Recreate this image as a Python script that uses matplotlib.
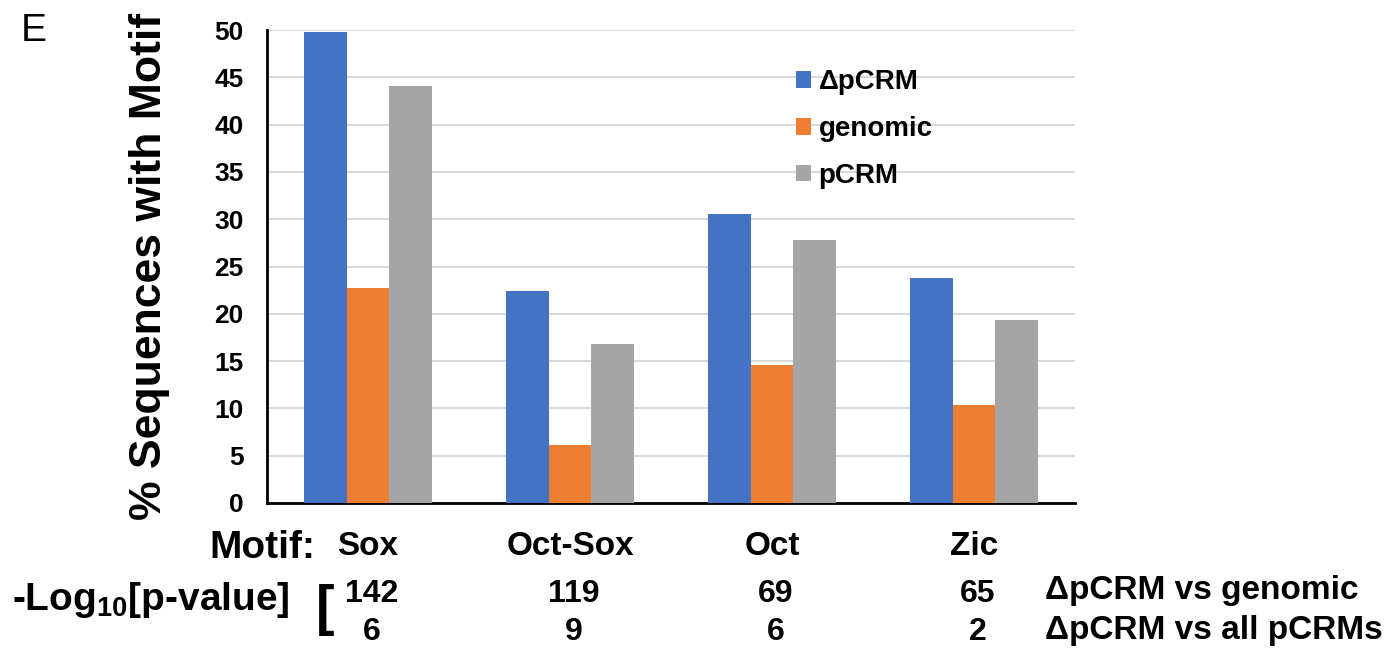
import numpy as np
import matplotlib
matplotlib.use("Agg")
import matplotlib.pyplot as plt
from matplotlib.transforms import blended_transform_factory

plt.rcParams['font.family'] = ['Liberation Sans', 'DejaVu Sans']
plt.rcParams['mathtext.fontset'] = 'custom'
plt.rcParams['mathtext.rm'] = 'Liberation Sans:bold'
plt.rcParams['mathtext.it'] = 'Liberation Sans:bold'
plt.rcParams['mathtext.bf'] = 'Liberation Sans:bold'

motifs = ["Sox", "Oct-Sox", "Oct", "Zic"]
series = ["\u0394pCRM", "genomic", "pCRM"]
delta_pcrm = [49.8, 22.4, 30.5, 23.8]
genomic = [22.7, 6.1, 14.6, 10.4]
pcrm = [44.1, 16.8, 27.8, 19.3]
pval_vs_genomic = ["142", "119", "69", "65"]
pval_vs_all = ["6", "9", "6", "2"]
colors = ["#4472C4", "#ED7D31", "#A5A5A5"]

W, H = 1394, 650
fig = plt.figure(figsize=(W / 100, H / 100), dpi=100)

def px(x, y):
    return x / W, 1 - y / H

# axes placed in pixel coords: left 267, right 1075, top 30, bottom 503
ax = fig.add_axes([267 / W, 1 - 503 / H, (1075 - 267) / W, (503 - 30) / H])

x = np.arange(len(motifs))
bw = 0.21
for i, (vals, name) in enumerate(zip([delta_pcrm, genomic, pcrm], series)):
    ax.bar(x + (i - 1) * bw, vals, bw, color=colors[i], label=name, zorder=3)

ax.set_xlim(-0.5, len(motifs) - 0.5)
ax.set_ylim(0, 50)
ax.set_yticks(range(0, 51, 5))
ax.yaxis.grid(True, color="#D9D9D9", linewidth=1.5, zorder=0)
ax.set_axisbelow(True)
for s in ["top", "right"]:
    ax.spines[s].set_visible(False)
for s in ["left", "bottom"]:
    ax.spines[s].set_linewidth(2)
    ax.spines[s].set_color("black")
ax.spines["left"].set_bounds(0, 50)
ax.tick_params(axis="both", length=0)
ax.tick_params(axis="y", pad=17)
for lab in ax.get_yticklabels():
    lab.set_fontsize(19)
    lab.set_fontweight("bold")
ax.set_xticks(x)
ax.set_xticklabels(motifs, fontsize=24, fontweight="bold")
ax.tick_params(axis="x", pad=20)

leg = ax.legend(loc="upper left", bbox_to_anchor=(0.624, 0.97), frameon=False,
                prop={"size": 20, "weight": "bold"}, handlelength=0.55,
                handleheight=0.55, labelspacing=0.75, handletextpad=0.25)

# labels outside axes
fig.text(*px(34, 31), "E", fontsize=28, ha="center", va="center")
fig.text(*px(150, 266), "% Sequences with Motif", fontsize=32, fontweight="bold",
         rotation=90, ha="center", va="center")
fig.text(*px(262, 548), "Motif:", fontsize=28, fontweight="bold", ha="center", va="center")
fig.text(*px(151, 600), "-Log$_{10}$[p-value]", fontsize=28, fontweight="bold",
         ha="center", va="center")
fig.text(*px(325, 610), "[", fontsize=40, fontweight="bold", ha="center", va="center")

tr = blended_transform_factory(ax.transData, fig.transFigure)
for i in range(len(motifs)):
    ax.text(x[i] + 0.02, 1 - 594 / H, pval_vs_genomic[i], transform=tr, fontsize=23,
            fontweight="bold", ha="center", va="center")
    ax.text(x[i] + 0.02, 1 - 632 / H, pval_vs_all[i], transform=tr, fontsize=23,
            fontweight="bold", ha="center", va="center")

fig.text(*px(1045, 590), "\u0394pCRM vs genomic", fontsize=24, fontweight="bold",
         ha="left", va="center")
fig.text(*px(1045, 630), "\u0394pCRM vs all pCRMs", fontsize=24, fontweight="bold",
         ha="left", va="center")

fig.savefig("out.png", dpi=100)
